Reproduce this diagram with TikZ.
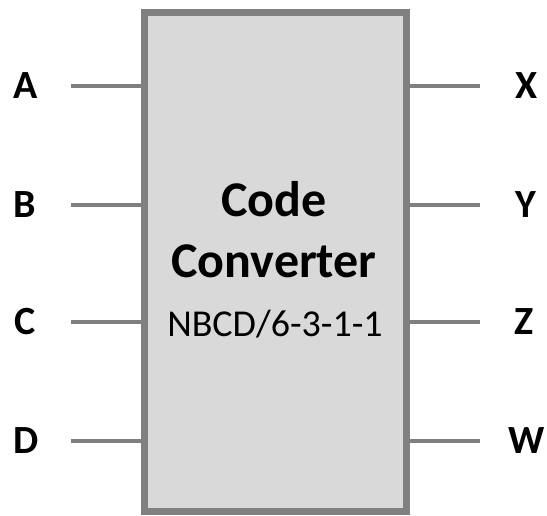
\documentclass[tikz,border=0pt]{standalone}
\usepackage{fontspec}
\setmainfont{Carlito}
\usetikzlibrary{positioning, calc}

\definecolor{boxfill}{HTML}{D9D9D9}
\definecolor{boxedge}{HTML}{808080}

\begin{document}
\begin{tikzpicture}[x=1pt, y=-1pt,
    conv/.style={rectangle, draw=boxedge, line width=7pt, fill=boxfill, minimum width=261.5pt, minimum height=498.5pt, inner sep=0pt},
    pin/.style={draw=boxedge, line width=4pt},
    lbl/.style={font=\fontsize{40}{48}\selectfont\bfseries, inner sep=0pt},
    title/.style={font=\fontsize{50}{60}\selectfont\bfseries, anchor=base, inner sep=0pt},
    sub/.style={font=\fontsize{38}{46}\selectfont, anchor=base, inner sep=0pt}
]
\useasboundingbox (0,0) rectangle (547,516);

% the converter block
\node[conv] (block) at (275.25,261.75) {};
\node[title] (code) at (274,217) {Code};
\node[title] (converter) at (274,277) {Converter};
\node[sub] (nbcd) at (275,337) {NBCD/6-3-1-1};

% input / output labels
\node[lbl] (a) at (26,86) {A};
\node[lbl] (b) at (25,205) {B};
\node[lbl] (c) at (25,322) {C};
\node[lbl] (d) at (26,441) {D};
\node[lbl] (x) at (527,86) {X};
\node[lbl] (y) at (526,205) {Y};
\node[lbl] (z) at (524,322) {Z};
\node[lbl] (w) at (527,441) {W};

% free ends of the pins
\coordinate (ain) at (71,86);
\coordinate (bin) at (71,205);
\coordinate (cin) at (71,322);
\coordinate (din) at (71,441);
\coordinate (xout) at (480,86);
\coordinate (yout) at (480,205);
\coordinate (zout) at (480,322);
\coordinate (wout) at (480,441);

\draw[pin] (ain) -- (ain -| block.west);
\draw[pin] (bin) -- (bin -| block.west);
\draw[pin] (cin) -- (cin -| block.west);
\draw[pin] (din) -- (din -| block.west);
\draw[pin] (xout -| block.east) -- (xout);
\draw[pin] (yout -| block.east) -- (yout);
\draw[pin] (zout -| block.east) -- (zout);
\draw[pin] (wout -| block.east) -- (wout);

\end{tikzpicture}
\end{document}
